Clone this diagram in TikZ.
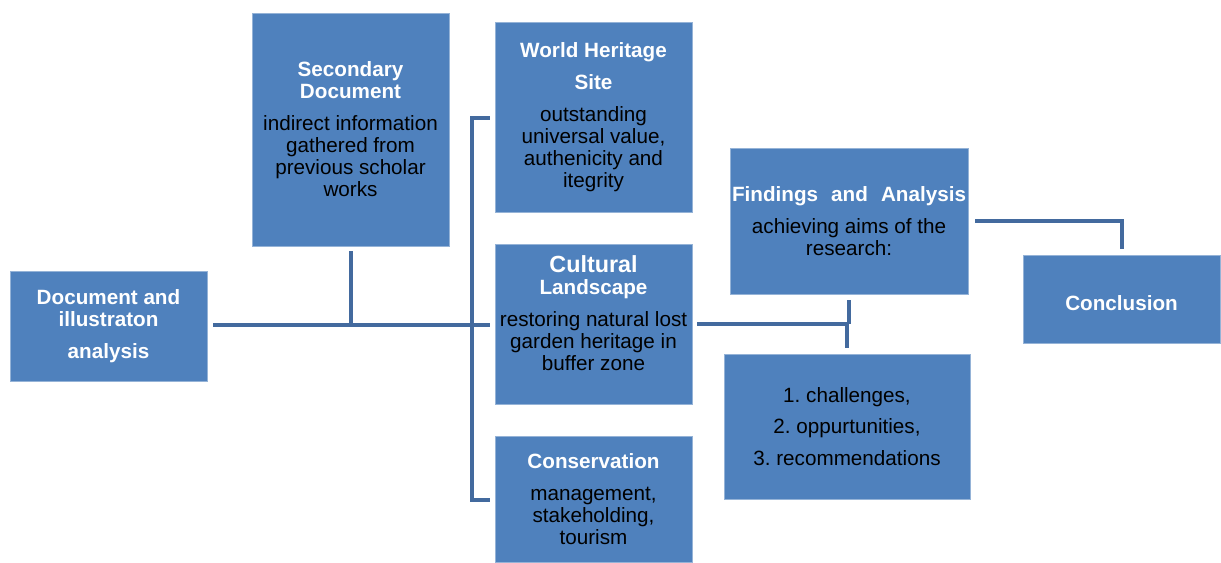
\documentclass[tikz,border=0pt]{standalone}
\usepackage{fontspec}
\setmainfont{Liberation Sans}
\usepackage{tikz}
\frenchspacing

\definecolor{boxblue}{HTML}{4F81BD}
\definecolor{boxedge}{HTML}{95B3D7}
\definecolor{linkblue}{HTML}{436A9E}

\newcommand{\boxtitle}[1]{{\bfseries\color{white}#1}}

\tikzset{
  boxsize/.style 2 args={minimum width=#1*0.75pt, minimum height=#2*0.75pt},
  box/.style={rectangle, fill=boxblue, draw=boxedge, line width=0.6pt,
    inner sep=0pt, align=center, text=black,
    font=\fontsize{15.5}{16.5}\selectfont},
  link/.style={draw=linkblue, line width=3pt}
}

\begin{document}
\begin{tikzpicture}[x=0.75pt, y=-0.75pt]
  \useasboundingbox (0,0) rectangle (1221,562);

  % Draw the boxes
  \node[box, boxsize={197}{110}] (doc) at (108.5,326)
    {\boxtitle{Document and}\\\boxtitle{illustraton}\\[7pt]\boxtitle{analysis}};
  \node[box, boxsize={197}{233}] (sec) at (350.5,129.5)
    {\boxtitle{Secondary}\\\boxtitle{Document}\\[7.5pt]indirect information\\gathered from\\previous scholar\\works};
  \node[box, boxsize={197}{190}] (whs) at (593.5,117)
    {\boxtitle{World Heritage}\\[7.5pt]\boxtitle{Site}\\[7pt]outstanding\\universal value,\\authenicity and\\itegrity};
  \node[box, boxsize={197}{160}] (cl) at (593.5,324)
    {\boxtitle{\fontsize{17.5}{18}\selectfont Cultural}\\\boxtitle{Landscape}\\[8pt]restoring natural lost\\garden heritage in\\buffer zone\\\mbox{}};
  \node[box, boxsize={197}{126}] (cons) at (593.5,499)
    {\boxtitle{Conservation}\\[7pt]management,\\stakeholding,\\tourism};
  \node[box, boxsize={238}{146}] (find) at (849,221)
    {\boxtitle{\makebox[175.5pt][s]{Findings and Analysis}}\\[7pt]achieving aims of the\\research:};
  \node[box, boxsize={246}{145}] (chal) at (847,426.5)
    {1. challenges,\\[7pt]2. oppurtunities,\\[7pt]3. recommendations};
  \node[box, boxsize={197}{88}] (concl) at (1121.5,299)
    {\raisebox{-3pt}[\height][0pt]{\boxtitle{Conclusion}}};

  % Bracket points
  \coordinate (brtop) at (472,118);
  \coordinate (brmid) at (472,325);
  \coordinate (brbot) at (472,500);
  \coordinate (fjoin) at (848,324);

  % Draw the connectors
  \draw[link] ([xshift=4.5pt]doc.east |- brmid) -- (brmid);
  \draw[link] ([yshift=-3.75pt]sec.south) -- (sec.south |- brmid);
  \draw[link] ([xshift=-3.75pt]whs.west |- brtop) -- (brtop) -- (brbot)
    -- ([xshift=-3.75pt]cons.west |- brbot);
  \draw[link] (brmid) -- ([xshift=-3.75pt]cl.west |- brmid);
  \draw[link] ([xshift=3.75pt]cl.east |- fjoin) -- (fjoin);
  \draw[link] ([yshift=-4.5pt]find.south) -- (find.south |- fjoin);
  \draw[link] (chal.north |- fjoin) -- ([yshift=4.5pt]chal.north);
  \draw[link] ([xshift=5pt]find.east) -| ([yshift=4.5pt]concl.north);
\end{tikzpicture}
\end{document}
